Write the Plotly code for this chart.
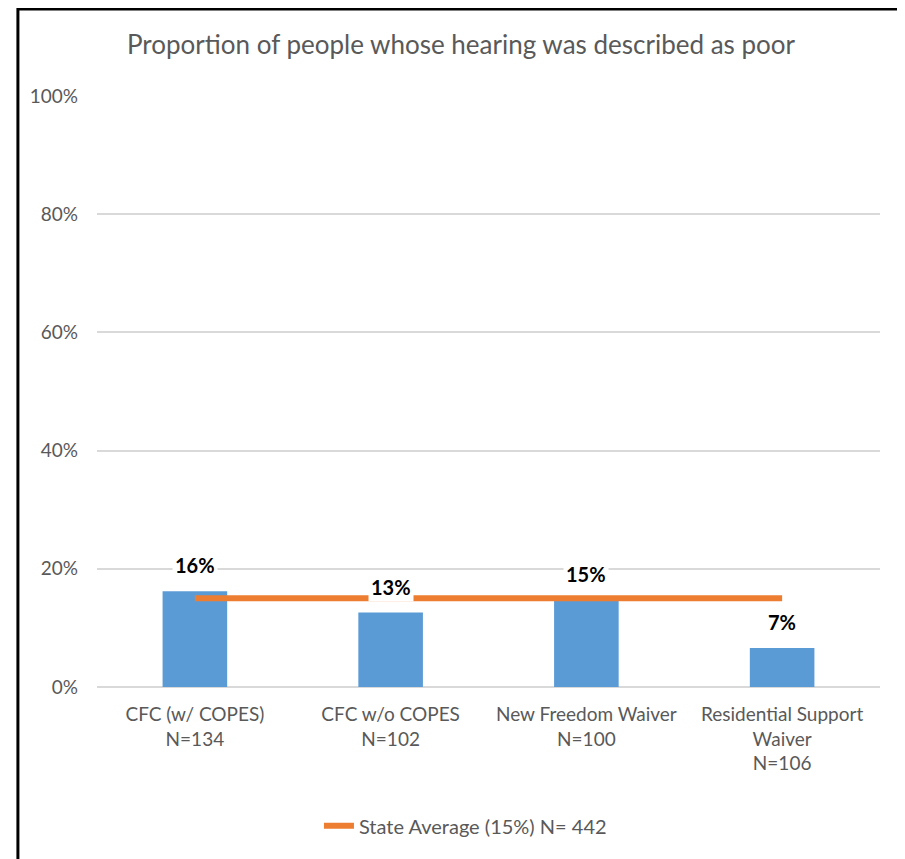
import plotly.graph_objects as go

categories = ["CFC (w/ COPES)<br>N=134", "CFC w/o COPES<br>N=102",
              "New Freedom Waiver<br>N=100", "Residential Support<br>Waiver<br>N=106"]
proportions = [0.162, 0.126, 0.148, 0.066]
value_labels = ["16%", "13%", "15%", "7%"]
state_avg = [0.15, 0.15, 0.15, 0.15]
state_name = "State Average (15%) N= 442"
y_ticks = [0, 0.2, 0.4, 0.6, 0.8, 1.0]

FONT = "Lato, 'Open Sans', sans-serif"
GREY = "#595959"

fig = go.Figure()
fig.add_trace(go.Bar(
    x=categories, y=proportions,
    marker=dict(color="#5B9BD5", line=dict(width=0)),
    width=0.33, showlegend=False, hoverinfo="skip",
))
fig.add_trace(go.Scatter(
    x=categories, y=state_avg, mode="lines", name=state_name,
    line=dict(color="#ED7D31", width=6),
))

# value labels with white boxes, like the original data labels
for cat, val, lab in zip(categories, proportions, value_labels):
    fig.add_annotation(
        x=cat, y=val, text="<b>" + lab + "</b>", showarrow=False,
        yanchor="bottom", yshift=11, bgcolor="white", borderpad=2,
        font=dict(family=FONT, size=20, color="black"),
    )

# outer frame of the chart
fig.add_shape(type="rect", xref="paper", yref="paper",
              x0=-0.101, x1=1.0255, y0=-0.4, y1=1.147,
              line=dict(color="black", width=3), layer="above")

fig.update_layout(
    width=897, height=851,
    margin=dict(l=89, r=25, t=88, b=172),
    plot_bgcolor="white", paper_bgcolor="white",
    font=dict(family=FONT, color=GREY, size=19),
    title=dict(text="Proportion of people whose hearing was described as poor",
               x=0.505, xref="container", xanchor="center",
               y=0.9565, yanchor="middle",
               font=dict(family=FONT, size=26, color=GREY)),
    bargap=0.67,
    legend=dict(orientation="h", x=0.51, xref="container", xanchor="center",
                y=0.039, yref="container", yanchor="middle",
                font=dict(family=FONT, size=20, color=GREY)),
    yaxis=dict(range=[0, 1], tickvals=y_ticks, tickformat=".0%",
               gridcolor="#D9D9D9", gridwidth=1.5, zeroline=True,
               zerolinecolor="#D9D9D9", zerolinewidth=2,
               ticklabelstandoff=18, fixedrange=True),
    xaxis=dict(showgrid=False, showline=False, ticks="",
               ticklabelstandoff=14, tickangle=0, fixedrange=True),
)

fig.write_html("out.html")
